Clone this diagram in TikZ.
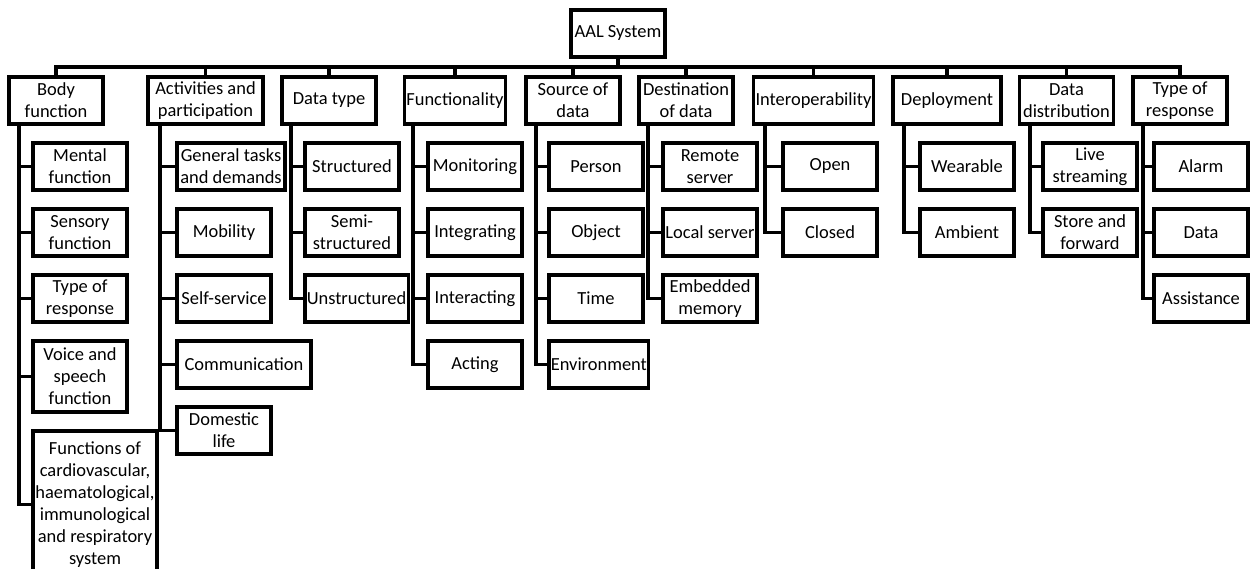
\documentclass[tikz,border=0pt]{standalone}
\usepackage{fontspec}
\setmainfont{Carlito}
\usetikzlibrary{calc, positioning}

\begin{document}
\begin{tikzpicture}[
        node distance=0.38cm,
        box/.style={
            rectangle, draw=black, line width=1.8pt,
            align=center, minimum width=1.88cm, minimum height=0.94cm,
            inner xsep=1pt, inner ysep=1.5pt, outer sep=0pt,
            font=\fontsize{10.5}{12.5}\selectfont
        },
        link/.style={draw=black, line width=1.8pt}
    ]
    \useasboundingbox (0,0) rectangle (25,-11.38);

    % ROOT
    \node[box] (aal) at (12.36,-0.67) {AAL System};

    % FIRST LEVEL
    \node[box] (body) at (1.12,-2.01) {Body\\function};
    \node[box, minimum width=2.30cm] (activities) at (4.11,-2.01) {Activities and\\participation};
    \node[box] (datatype) at (6.58,-2.01) {Data type};
    \node[box] (functionality) at (9.10,-2.01) {Functionality};
    \node[box] (source) at (11.46,-2.01) {Source of\\data};
    \node[box] (destination) at (13.72,-2.01) {Destination\\of data};
    \node[box] (interop) at (16.27,-2.01) {Interoperability};
    \node[box, minimum width=2.16cm] (deployment) at (18.94,-2.01) {Deployment};
    \node[box] (distribution) at (21.33,-2.01) {Data\\distribution};
    \node[box] (response) at (23.60,-2.01) {Type of\\response};

    % BODY FUNCTION
    \node[box, anchor=north west] (mental) at (0.66,-2.86) {Mental\\function};
    \node[box, below right=0.38cm and 0cm of mental.south west] (sensory) {Sensory\\function};
    \node[box, below right=0.38cm and 0cm of sensory.south west] (bodyresp) {Type of\\response};
    \node[box, minimum height=1.42cm, below right=0.38cm and 0cm of bodyresp.south west] (voice) {Voice and\\speech\\function};
    \node[box, minimum width=2.48cm, minimum height=2.95cm, below right=0.38cm and 0cm of voice.south west] (cardio) {Functions of\\cardiovascular,\\haematological,\\immunological\\and respiratory\\system};

    % ACTIVITIES AND PARTICIPATION
    \node[box, minimum width=2.16cm, anchor=north west] (tasks) at (3.54,-2.86) {General tasks\\and demands};
    \node[box, below right=0.38cm and 0cm of tasks.south west] (mobility) {Mobility};
    \node[box, below right=0.38cm and 0cm of mobility.south west] (selfservice) {Self-service};
    \node[box, minimum width=2.68cm, below right=0.38cm and 0cm of selfservice.south west] (communication) {Communication};
    \node[box, below right=0.38cm and 0cm of communication.south west] (domestic) {Domestic\\life};

    % DATA TYPE
    \node[box, anchor=north west] (structured) at (6.10,-2.86) {Structured};
    \node[box, below right=0.38cm and 0cm of structured.south west] (semi) {Semi-\\structured};
    \node[box, below right=0.38cm and 0cm of semi.south west] (unstructured) {Unstructured};

    % FUNCTIONALITY
    \node[box, anchor=north west] (monitoring) at (8.56,-2.86) {Monitoring};
    \node[box, below right=0.38cm and 0cm of monitoring.south west] (integrating) {Integrating};
    \node[box, below right=0.38cm and 0cm of integrating.south west] (interacting) {Interacting};
    \node[box, below right=0.38cm and 0cm of interacting.south west] (acting) {Acting};

    % SOURCE OF DATA
    \node[box, anchor=north west] (person) at (10.98,-2.86) {Person};
    \node[box, below right=0.38cm and 0cm of person.south west] (object) {Object};
    \node[box, below right=0.38cm and 0cm of object.south west] (time) {Time};
    \node[box, below right=0.38cm and 0cm of time.south west] (environment) {Environment};

    % DESTINATION OF DATA
    \node[box, anchor=north west] (remote) at (13.26,-2.86) {Remote\\server};
    \node[box, below right=0.38cm and 0cm of remote.south west] (local) {Local server};
    \node[box, below right=0.38cm and 0cm of local.south west] (embedded) {Embedded\\memory};

    % INTEROPERABILITY
    \node[box, anchor=north west] (open) at (15.66,-2.86) {Open};
    \node[box, below right=0.38cm and 0cm of open.south west] (closed) {Closed};

    % DEPLOYMENT
    \node[box, anchor=north west] (wearable) at (18.40,-2.86) {Wearable};
    \node[box, below right=0.38cm and 0cm of wearable.south west] (ambient) {Ambient};

    % DATA DISTRIBUTION
    \node[box, anchor=north west] (live) at (20.86,-2.86) {Live\\streaming};
    \node[box, below right=0.38cm and 0cm of live.south west] (store) {Store and\\forward};

    % TYPE OF RESPONSE
    \node[box, anchor=north west] (alarm) at (23.08,-2.86) {Alarm};
    \node[box, below right=0.38cm and 0cm of alarm.south west] (data) {Data};
    \node[box, below right=0.38cm and 0cm of data.south west] (assistance) {Assistance};

    % TRUNK LINES
    \coordinate (bodyline) at (0.38,0);
    \coordinate (actline) at (3.20,0);
    \coordinate (typeline) at (5.82,0);
    \coordinate (funcline) at (8.26,0);
    \coordinate (sourceline) at (10.72,0);
    \coordinate (destline) at (12.96,0);
    \coordinate (interline) at (15.30,0);
    \coordinate (deployline) at (18.08,0);
    \coordinate (distline) at (20.60,0);
    \coordinate (respline) at (22.86,0);

    % BUS
    \draw[link] (aal.south) -- ++(0,-0.2) -| (body.north);
    \draw[link] (aal.south) -- ++(0,-0.2) -| (activities.north);
    \draw[link] (aal.south) -- ++(0,-0.2) -| (datatype.north);
    \draw[link] (aal.south) -- ++(0,-0.2) -| (functionality.north);
    \draw[link] (aal.south) -- ++(0,-0.2) -| (source.north);
    \draw[link] (aal.south) -- ++(0,-0.2) -| (destination.north);
    \draw[link] (aal.south) -- ++(0,-0.2) -| (interop.north);
    \draw[link] (aal.south) -- ++(0,-0.2) -| (deployment.north);
    \draw[link] (aal.south) -- ++(0,-0.2) -| (distribution.north);
    \draw[link] (aal.south) -- ++(0,-0.2) -| (response.north);

    % BRANCHES
    \draw[link] (body.south -| bodyline) |- (mental.west);
    \draw[link] (body.south -| bodyline) |- (sensory.west);
    \draw[link] (body.south -| bodyline) |- (bodyresp.west);
    \draw[link] (body.south -| bodyline) |- (voice.west);
    \draw[link] (body.south -| bodyline) |- (cardio.west);

    \draw[link] (activities.south -| actline) |- (tasks.west);
    \draw[link] (activities.south -| actline) |- (mobility.west);
    \draw[link] (activities.south -| actline) |- (selfservice.west);
    \draw[link] (activities.south -| actline) |- (communication.west);
    \draw[link] (activities.south -| actline) |- (domestic.west);

    \draw[link] (datatype.south -| typeline) |- (structured.west);
    \draw[link] (datatype.south -| typeline) |- (semi.west);
    \draw[link] (datatype.south -| typeline) |- (unstructured.west);

    \draw[link] (functionality.south -| funcline) |- (monitoring.west);
    \draw[link] (functionality.south -| funcline) |- (integrating.west);
    \draw[link] (functionality.south -| funcline) |- (interacting.west);
    \draw[link] (functionality.south -| funcline) |- (acting.west);

    \draw[link] (source.south -| sourceline) |- (person.west);
    \draw[link] (source.south -| sourceline) |- (object.west);
    \draw[link] (source.south -| sourceline) |- (time.west);
    \draw[link] (source.south -| sourceline) |- (environment.west);

    \draw[link] (destination.south -| destline) |- (remote.west);
    \draw[link] (destination.south -| destline) |- (local.west);
    \draw[link] (destination.south -| destline) |- (embedded.west);

    \draw[link] (interop.south -| interline) |- (open.west);
    \draw[link] (interop.south -| interline) |- (closed.west);

    \draw[link] (deployment.south -| deployline) |- (wearable.west);
    \draw[link] (deployment.south -| deployline) |- (ambient.west);

    \draw[link] (distribution.south -| distline) |- (live.west);
    \draw[link] (distribution.south -| distline) |- (store.west);

    \draw[link] (response.south -| respline) |- (alarm.west);
    \draw[link] (response.south -| respline) |- (data.west);
    \draw[link] (response.south -| respline) |- (assistance.west);

\end{tikzpicture}
\end{document}
